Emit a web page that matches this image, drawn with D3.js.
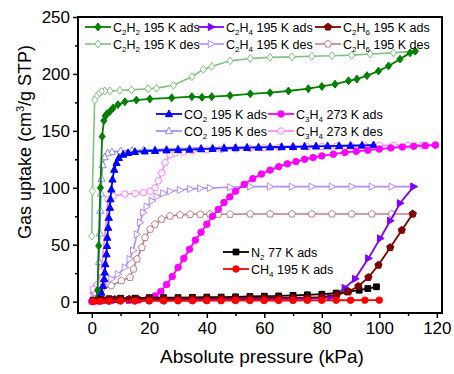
<!DOCTYPE html>
<html>
<head>
<meta charset="utf-8">
<script src="https://cdn.jsdelivr.net/npm/d3@7"></script>
<style>
  body { margin: 0; background: #fff; }
  svg { font-family: "Liberation Sans", Arial, sans-serif; }
</style>
</head>
<body>
<svg id="chart" width="454" height="374"></svg>
<script>
// ---- data (kPa, cm3/g STP) ----
var c2h2AdsX = [0.5, 1.5, 2.0, 2.4, 3.0, 3.6, 4.2, 4.7, 5.3, 6.3, 7.4, 9.1, 11.5, 15.5, 20.2, 27.8, 34.8, 38.3, 41.7, 48.1, 55.1, 62.0, 68.4, 75.3, 80.0, 84.6, 89.3, 92.2, 95.7, 99.7, 103.2, 107.2, 110.7, 112.5];
var c2h2AdsY = [0.5, 1.5, 10, 49, 100, 145, 159, 163, 165, 167, 170, 173, 175.5, 177, 178, 179, 180, 179.5, 180, 181, 182.5, 183.5, 185, 187, 189, 191, 194, 195.5, 198.5, 202.5, 207, 213, 218.5, 220];
var c2h2DesX = [112.5, 104.9, 96.8, 90.4, 83.5, 76.5, 69.6, 62.0, 55.1, 48.1, 41.7, 38.8, 34.8, 28.4, 22.5, 19.6, 13.8, 9.7, 6.3, 4.5, 3.3, 2.4, 1.6, 1.0, 0.2, 0.0];
var c2h2DesY = [220, 218.5, 217.5, 216.5, 216, 215.5, 215, 214.5, 213.5, 211.5, 206.5, 204, 197.5, 190, 187.5, 187, 186, 185.5, 185, 185, 184.5, 182.5, 180, 177, 97, 57.5];

var c2h4AdsX = [0.5, 2, 4, 6, 8, 10, 13, 16, 20, 25, 30, 35, 40, 45, 50, 55, 60, 65, 70, 75, 80, 83, 85.2, 88, 91.6, 96.2, 100.3, 103.8, 107.2, 111.9];
var c2h4AdsY = [0.5, 1, 1.5, 1.5, 1.5, 1.5, 1.5, 1.5, 1.8, 1.8, 2, 2, 2, 2, 2, 2.2, 2.2, 2.5, 2.5, 2.5, 3, 4, 6.7, 12, 20, 38, 55.5, 71, 86.4, 101];
var c2h4DesX = [111.9, 104.3, 97.4, 90.4, 83.5, 76.5, 69.6, 62, 55.1, 48.1, 41.1, 37.7, 34.2, 30.7, 27.2, 24.9, 22.6, 20.9, 19.1, 17.9, 16.8, 15.7, 14.4, 13.2, 11.5, 9.1, 6.8, 3.9, 1.6, 0.5];
var c2h4DesY = [101, 101, 101, 101, 101, 101, 101, 101, 101, 100.5, 99.8, 99.5, 99, 98, 97, 95.1, 92.2, 88.4, 83.5, 78.2, 69.5, 59, 45, 37.4, 30, 24, 20, 15.5, 12.6, 9.6];

var c2h6AdsX = [0.5, 2, 4, 6, 8, 10, 13, 16, 20, 25, 30, 35, 40, 45, 50, 55, 60, 65, 70, 75, 80, 85.2, 89.3, 92.7, 96.2, 99.7, 103.8, 107.8, 111.6];
var c2h6AdsY = [0.5, 1, 1.5, 2, 2, 2, 2.2, 2.2, 2.5, 2.5, 2.5, 2.8, 2.8, 3, 3, 3, 3.2, 3.2, 3.5, 3.5, 4, 5.9, 8.8, 13.5, 21.3, 32.1, 47.6, 62.7, 77];
var c2h6DesX = [111.6, 104.3, 97.4, 90.4, 83.5, 76.5, 69.6, 62, 55.1, 48.1, 44, 41.1, 37.7, 34.2, 30.7, 27.2, 24.3, 22, 20.3, 18.5, 17.4, 15.7, 14.5, 13.3, 10.3, 6.8, 3.3, 1];
var c2h6DesY = [77, 77, 77, 77, 77, 77, 77, 77, 77, 76.8, 76.7, 76.7, 76.7, 76.7, 76.2, 75.2, 72.4, 68, 63.6, 56.3, 47.6, 37.4, 28.6, 21.3, 18.4, 14, 11.1, 8.2];

var co2AdsX = [0.5, 2.0, 3.3, 3.9, 4.3, 4.5, 4.7, 5.1, 5.3, 5.4, 5.7, 5.9, 6.3, 6.5, 6.8, 7.2, 7.8, 8.6, 9.4, 10.9, 12.6, 15.0, 18.4, 22, 26, 30, 34, 38, 42, 46, 50, 54, 58, 62, 66, 70, 74, 78, 82, 86, 90, 94, 98];
var co2AdsY = [1, 3, 8, 14, 20, 25.7, 33, 41.7, 49, 56.3, 65, 73.8, 82.6, 90, 98.6, 107.4, 116, 122, 126.3, 129.2, 130.7, 131.6, 132.1, 132.5, 133, 133.3, 133.6, 134, 134.3, 134.6, 135, 135.2, 135.4, 135.6, 135.8, 136, 136.2, 136.4, 136.6, 136.8, 137, 137.2, 137.5];
var co2DesX = [98, 94, 90, 86, 82, 78, 74, 70, 66, 62, 58, 54, 50, 46, 42, 38, 34, 30, 26, 22, 18, 14, 10, 7, 5.5, 4.5, 3.8, 3.4, 3.2, 3.0, 2.8, 2.5, 2.0, 1.2, 0.5];
var co2DesY = [137.5, 137.3, 137.2, 137, 136.9, 136.8, 136.6, 136.5, 136.3, 136.2, 136, 135.8, 135.6, 135.4, 135.2, 135, 134.7, 134.4, 134, 133.6, 133.2, 132.8, 132.3, 131.5, 130.5, 127, 120, 108, 95, 80, 60, 35, 15, 8, 5];

var c3h4AdsX = [0, 2, 4, 7, 10, 13, 16.5, 19.5, 22, 24, 26, 28, 30, 32, 34, 36, 38, 40, 42, 44, 46, 48, 50, 53, 56, 59, 62, 65, 68, 71, 74, 77, 80, 84, 88, 92, 96, 100, 104, 108, 112, 116, 119.5];
var c3h4AdsY = [0, 0.5, 1, 1, 1, 1, 1.5, 2.5, 5, 9, 15, 22, 30, 38, 46, 54, 61, 68, 75, 81, 87, 92, 97, 103, 108, 112, 115.5, 118.5, 121, 123, 125, 126.5, 128, 129.5, 131, 132, 133, 134, 135, 135.8, 136.5, 137, 137.5];
var c3h4DesX = [119.5, 115, 110, 105, 100, 95, 90, 85, 80, 75, 70, 65, 60, 55, 50, 45, 40, 35, 31.9, 29, 27.2, 25.5, 24.3, 23.2, 22, 20.3, 17.9, 15.1, 11.5, 7.4, 5.7, 3.3, 2, 0.5, 0];
var c3h4DesY = [137.5, 137.5, 137.3, 137.2, 137, 136.8, 136.6, 136.4, 136.2, 136, 135.7, 135.4, 135, 134.6, 134.2, 133.8, 133.3, 132.5, 131.5, 130.5, 129, 122, 113, 106, 100, 97, 95.7, 95, 94.5, 92.7, 90, 26, 15, 11, 1];

var n2AdsX = [0.5, 3, 6, 10, 15, 20, 25, 30, 35, 40, 45, 50, 55, 60, 65, 70, 75, 80, 85, 89, 93, 96, 99];
var n2AdsY = [1, 2, 2.5, 3, 3, 3.5, 3.5, 3.5, 3.8, 4, 4, 4.2, 4.5, 4.8, 5, 5.5, 6, 6.5, 7.5, 8.5, 10, 11.5, 13];
var ch4AdsX = [0.5, 3, 6, 10, 15, 20, 25, 30, 35, 40, 45, 50, 55, 60, 65, 70, 75, 80, 85, 90, 95, 100];
var ch4AdsY = [0.2, 0.3, 0.4, 0.5, 0.5, 0.6, 0.6, 0.7, 0.7, 0.8, 0.8, 0.9, 0.9, 1, 1, 1, 1.1, 1.1, 1.2, 1.2, 1.3, 1.3];

var xTicks = [0, 20, 40, 60, 80, 100, 120];
var xMinor = [10, 30, 50, 70, 90, 110];
var yTicks = [0, 50, 100, 150, 200, 250];
var yMinor = [25, 75, 125, 175, 225];

// ---- marker shapes (size = radius) ----
function poly(pts){ return { draw: function(ctx, r){
  ctx.moveTo(pts[0][0]*r, pts[0][1]*r);
  for (var i = 1; i < pts.length; i++) ctx.lineTo(pts[i][0]*r, pts[i][1]*r);
  ctx.closePath(); } }; }
var pent = [];
for (var k = 0; k < 5; k++){ var a = -Math.PI/2 + k*2*Math.PI/5; pent.push([Math.cos(a)*1.05, Math.sin(a)*1.05]); }
var shapes = {
  diamond: poly([[0,-1.1],[0.85,0],[0,1.1],[-0.85,0]]),
  up: poly([[0,-1.1],[1,0.75],[-1,0.75]]),
  right: poly([[1.1,0],[-0.75,-1],[-0.75,1]]),
  pent: poly(pent),
  square: poly([[-0.8,-0.8],[0.8,-0.8],[0.8,0.8],[-0.8,0.8]]),
  circle: { draw: function(ctx, r){ ctx.moveTo(r*0.9, 0); ctx.arc(0, 0, r*0.9, 0, 2*Math.PI); } }
};

function zip(xs, ys){ return xs.map(function(d, i){ return [d, ys[i]]; }); }

var series = [
  {name: "co2d",  pts: zip(co2DesX, co2DesY),   color: "#8c8cff", shape: "up",      open: true},
  {name: "c2h4d", pts: zip(c2h4DesX, c2h4DesY), color: "#b28cff", shape: "right",   open: true},
  {name: "c2h6d", pts: zip(c2h6DesX, c2h6DesY), color: "#c08080", shape: "pent",    open: true},
  {name: "c3h4d", pts: zip(c3h4DesX, c3h4DesY), color: "#ff80ff", shape: "circle",  open: true},
  {name: "c2h2d", pts: zip(c2h2DesX, c2h2DesY), color: "#80c080", shape: "diamond", open: true},
  {name: "co2a",  pts: zip(co2AdsX, co2AdsY),   color: "#0000ff", shape: "up"},
  {name: "c2h4a", pts: zip(c2h4AdsX, c2h4AdsY), color: "#8000ff", shape: "right"},
  {name: "c3h4a", pts: zip(c3h4AdsX, c3h4AdsY), color: "#ff00ff", shape: "circle"},
  {name: "c2h2a", pts: zip(c2h2AdsX, c2h2AdsY), color: "#008000", shape: "diamond"},
  {name: "n2a",   pts: zip(n2AdsX, n2AdsY),     color: "#000000", shape: "square"},
  {name: "c2h6a", pts: zip(c2h6AdsX, c2h6AdsY), color: "#800000", shape: "pent"},
  {name: "ch4a",  pts: zip(ch4AdsX, ch4AdsY),   color: "#ff0000", shape: "circle"}
];
var byName = {};
series.forEach(function(s){ byName[s.name] = s; });

var svg = d3.select("#chart");
var L = 78, R = 442, T = 17, B = 313;
var x = d3.scaleLinear().domain([-4.8, 121.8]).range([L, R]);
var y = d3.scaleLinear().domain([-10, 250]).range([B, T]);

var line = d3.line().x(function(d){ return x(d[0]); }).y(function(d){ return y(d[1]); });

var plot = svg.append("g");
series.forEach(function(s){
  var g = plot.append("g");
  g.append("path").attr("d", line(s.pts)).attr("fill", "none")
    .attr("stroke", s.color).attr("stroke-width", s.open ? 1.6 : 1.8);
  g.selectAll("path.m").data(s.pts).enter().append("path").attr("class", "m")
    .attr("transform", function(d){ return "translate(" + x(d[0]) + "," + y(d[1]) + ")"; })
    .attr("d", d3.symbol().type(shapes[s.shape]).size(3.6))
    .attr("fill", s.open ? "#fff" : s.color)
    .attr("stroke", s.color).attr("stroke-width", 1);
});

// ---- axes ----
svg.append("g").attr("transform", "translate(0," + B + ")")
  .call(d3.axisBottom(x).tickValues(xTicks).tickSize(5).tickSizeOuter(0).tickPadding(4));
svg.append("g").attr("transform", "translate(0," + B + ")")
  .call(d3.axisBottom(x).tickValues(xMinor).tickSize(3).tickFormat("").tickSizeOuter(0));
svg.append("g").attr("transform", "translate(" + L + ",0)")
  .call(d3.axisLeft(y).tickValues(yTicks).tickSize(5).tickSizeOuter(0).tickPadding(3));
svg.append("g").attr("transform", "translate(" + L + ",0)")
  .call(d3.axisLeft(y).tickValues(yMinor).tickSize(3).tickFormat("").tickSizeOuter(0));
svg.selectAll(".domain").remove();
svg.selectAll(".tick line").attr("stroke", "#000").attr("stroke-width", 1.5);
svg.selectAll(".tick text").attr("font-size", 17).attr("fill", "#000")
  .attr("font-family", "'Liberation Sans', Arial, sans-serif");

svg.append("rect").attr("x", L).attr("y", T).attr("width", R - L).attr("height", B - T)
  .attr("fill", "none").attr("stroke", "#000").attr("stroke-width", 2);

svg.append("text").attr("x", 262).attr("y", 363).attr("text-anchor", "middle")
  .attr("font-size", 19).text("Absolute pressure (kPa)");
var yl = svg.append("text").attr("transform", "translate(31,142) rotate(-90)")
  .attr("text-anchor", "middle").attr("font-size", 18);
yl.append("tspan").text("Gas uptake (cm");
yl.append("tspan").attr("font-size", 11).attr("dy", -7).text("3");
yl.append("tspan").attr("dy", 7).text("/g STP)");

// ---- legends ----
function chem(t, f){
  // formula with subscripted digits, e.g. "C2H2"
  var sub = false;
  f.replace(/([A-Za-z]+|[0-9]+)/g, function(m){
    if (/^[0-9]+$/.test(m)) { t.append("tspan").attr("font-size", 8).attr("dy", 3).text(m); sub = true; }
    else { t.append("tspan").attr("dy", sub ? -3 : 0).text(m); sub = false; }
  });
  return sub;
}
var legendItems = [
  {s: "c2h2a", f: "C2H2", rest: " 195 K ads", lx: 85,  ly: 27},
  {s: "c2h2d", f: "C2H2", rest: " 195 K des", lx: 85,  ly: 44},
  {s: "c2h4a", f: "C2H4", rest: " 195 K ads", lx: 198, ly: 27},
  {s: "c2h4d", f: "C2H4", rest: " 195 K des", lx: 198, ly: 44},
  {s: "c2h6a", f: "C2H6", rest: " 195 K ads", lx: 315, ly: 27},
  {s: "c2h6d", f: "C2H6", rest: " 195 K des", lx: 315, ly: 44},
  {s: "co2a",  f: "CO2",  rest: " 195 K ads", lx: 156, ly: 114},
  {s: "co2d",  f: "CO2",  rest: " 195 K des", lx: 156, ly: 131},
  {s: "c3h4a", f: "C3H4", rest: " 273 K ads", lx: 268, ly: 114},
  {s: "c3h4d", f: "C3H4", rest: " 273 K des", lx: 268, ly: 131},
  {s: "n2a",   f: "N2",   rest: " 77 K ads",  lx: 223, ly: 252},
  {s: "ch4a",  f: "CH4",  rest: " 195 K ads", lx: 223, ly: 269}
];
legendItems.forEach(function(it){
  var s = byName[it.s];
  var g = svg.append("g").attr("transform", "translate(" + it.lx + "," + it.ly + ")");
  g.append("line").attr("x1", 0).attr("x2", 26).attr("stroke", s.color).attr("stroke-width", s.open ? 1.6 : 1.8);
  g.append("path").attr("transform", "translate(13,0)")
    .attr("d", d3.symbol().type(shapes[s.shape]).size(3.6))
    .attr("fill", s.open ? "#fff" : s.color).attr("stroke", s.color);
  var t = g.append("text").attr("x", 28).attr("y", 4.5).attr("font-size", 12.5);
  var endSub = chem(t, it.f);
  t.append("tspan").attr("dy", endSub ? -3 : 0).text(it.rest);
});
</script>
</body>
</html>
